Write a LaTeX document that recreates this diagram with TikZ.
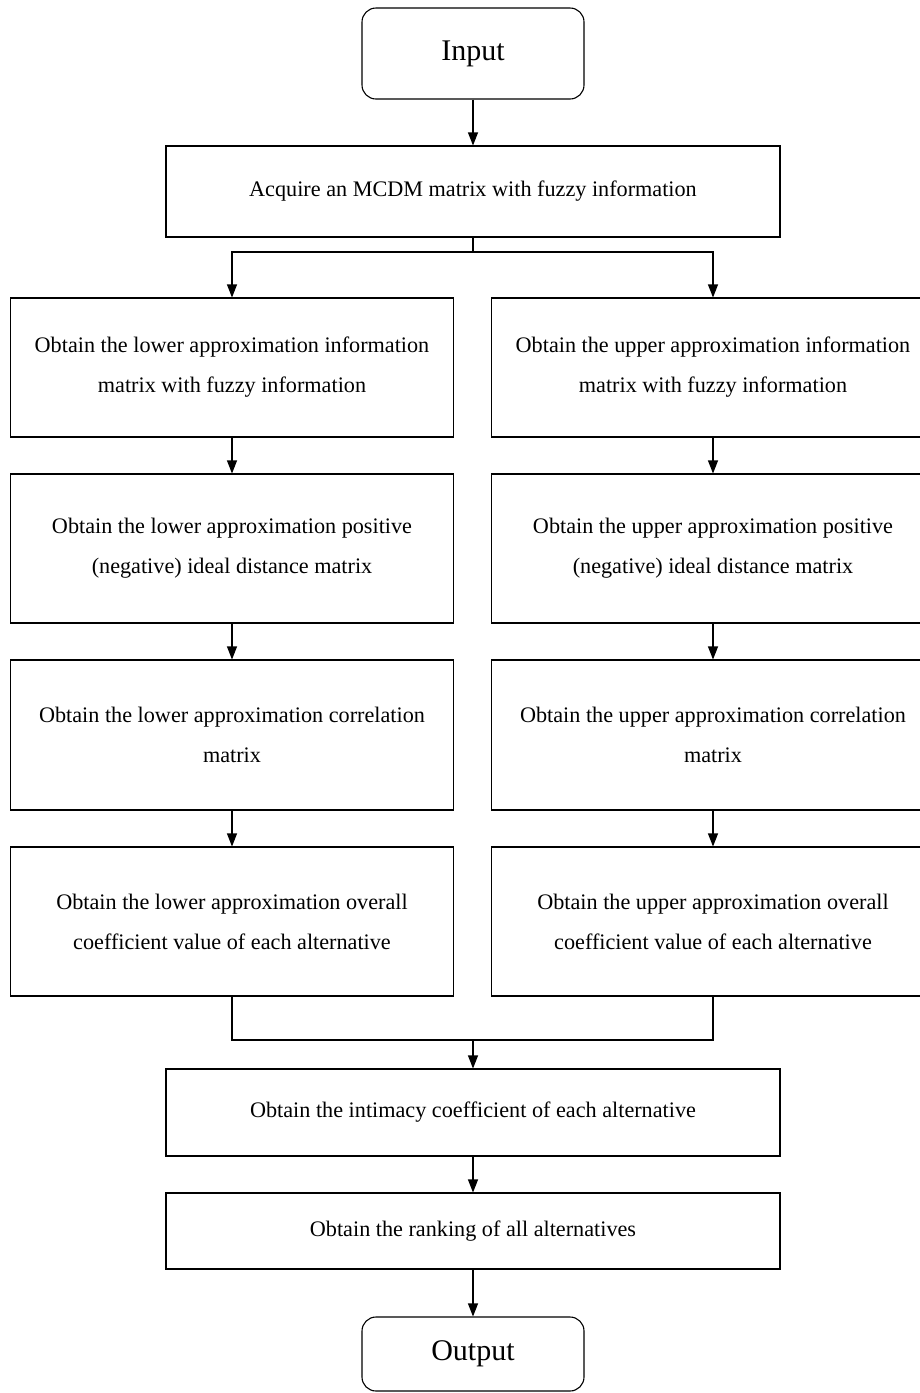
\documentclass[tikz,border=0pt]{standalone}
\usepackage{fontspec}
\setmainfont{Liberation Serif}
\usetikzlibrary{arrows.meta}

\begin{document}
\begin{tikzpicture}[x=1pt,y=-1pt,line width=1.1pt,
                    box node/.style={draw,rectangle,align=center,inner sep=0pt,
                                     font=\fontsize{22.2}{40}\selectfont},
                    side node/.style={box node,minimum width=443pt},
                    term node/.style={draw,rounded corners=14pt,minimum width=222pt,
                                      font=\fontsize{30}{36}\selectfont},
                    arr/.style={-{Triangle[length=13pt,width=10pt]}}]
  \useasboundingbox (0,0) rectangle (919,1393);
  % start
  \node[term node,minimum height=91pt] (in) at (473,53.5) {Input};
  \node[box node,minimum width=614pt,minimum height=91pt] (acq) at (473,191.5)
       {Acquire an MCDM matrix with fuzzy information};
  % lower column
  \node[side node,minimum height=139pt] (L1) at (232,367.5)
       {Obtain the lower approximation information\\matrix with fuzzy information};
  \node[side node,minimum height=149pt] (L2) at (232,548.5)
       {Obtain the lower approximation positive\\(negative) ideal distance matrix};
  \node[side node,minimum height=150pt] (L3) at (232,735)
       {Obtain the lower approximation correlation\\matrix};
  \node[side node,minimum height=149pt] (L4) at (232,921.5)
       {Obtain the lower approximation overall\\coefficient value of each alternative};
  % upper column
  \node[side node,minimum height=139pt] (R1) at (713,367.5)
       {Obtain the upper approximation information\\matrix with fuzzy information};
  \node[side node,minimum height=149pt] (R2) at (713,548.5)
       {Obtain the upper approximation positive\\(negative) ideal distance matrix};
  \node[side node,minimum height=150pt] (R3) at (713,735)
       {Obtain the upper approximation correlation\\matrix};
  \node[side node,minimum height=149pt] (R4) at (713,921.5)
       {Obtain the upper approximation overall\\coefficient value of each alternative};
  % end
  \node[box node,minimum width=614pt,minimum height=87pt] (int) at (473,1112.5)
       {Obtain the intimacy coefficient of each alternative};
  \node[box node,minimum width=614pt,minimum height=76pt] (rank) at (473,1231)
       {Obtain the ranking of all alternatives};
  \node[term node,minimum height=74pt] (out) at (473,1354) {Output};
  \coordinate (split) at (473,252);
  \coordinate (merge) at (473,1040);
  \draw[arr] (in) -- (acq);
  \draw (acq) -- (split);
  \draw[arr] (split) -| (L1.north);
  \draw[arr] (split) -| (R1.north);
  \draw[arr] (L1) -- (L2);
  \draw[arr] (L2) -- (L3);
  \draw[arr] (L3) -- (L4);
  \draw[arr] (R1) -- (R2);
  \draw[arr] (R2) -- (R3);
  \draw[arr] (R3) -- (R4);
  \draw (L4.south) |- (merge) -| (R4.south);
  \draw[arr] (merge) -- (int);
  \draw[arr] (int) -- (rank);
  \draw[arr] (rank) -- (out);
\end{tikzpicture}
\end{document}
